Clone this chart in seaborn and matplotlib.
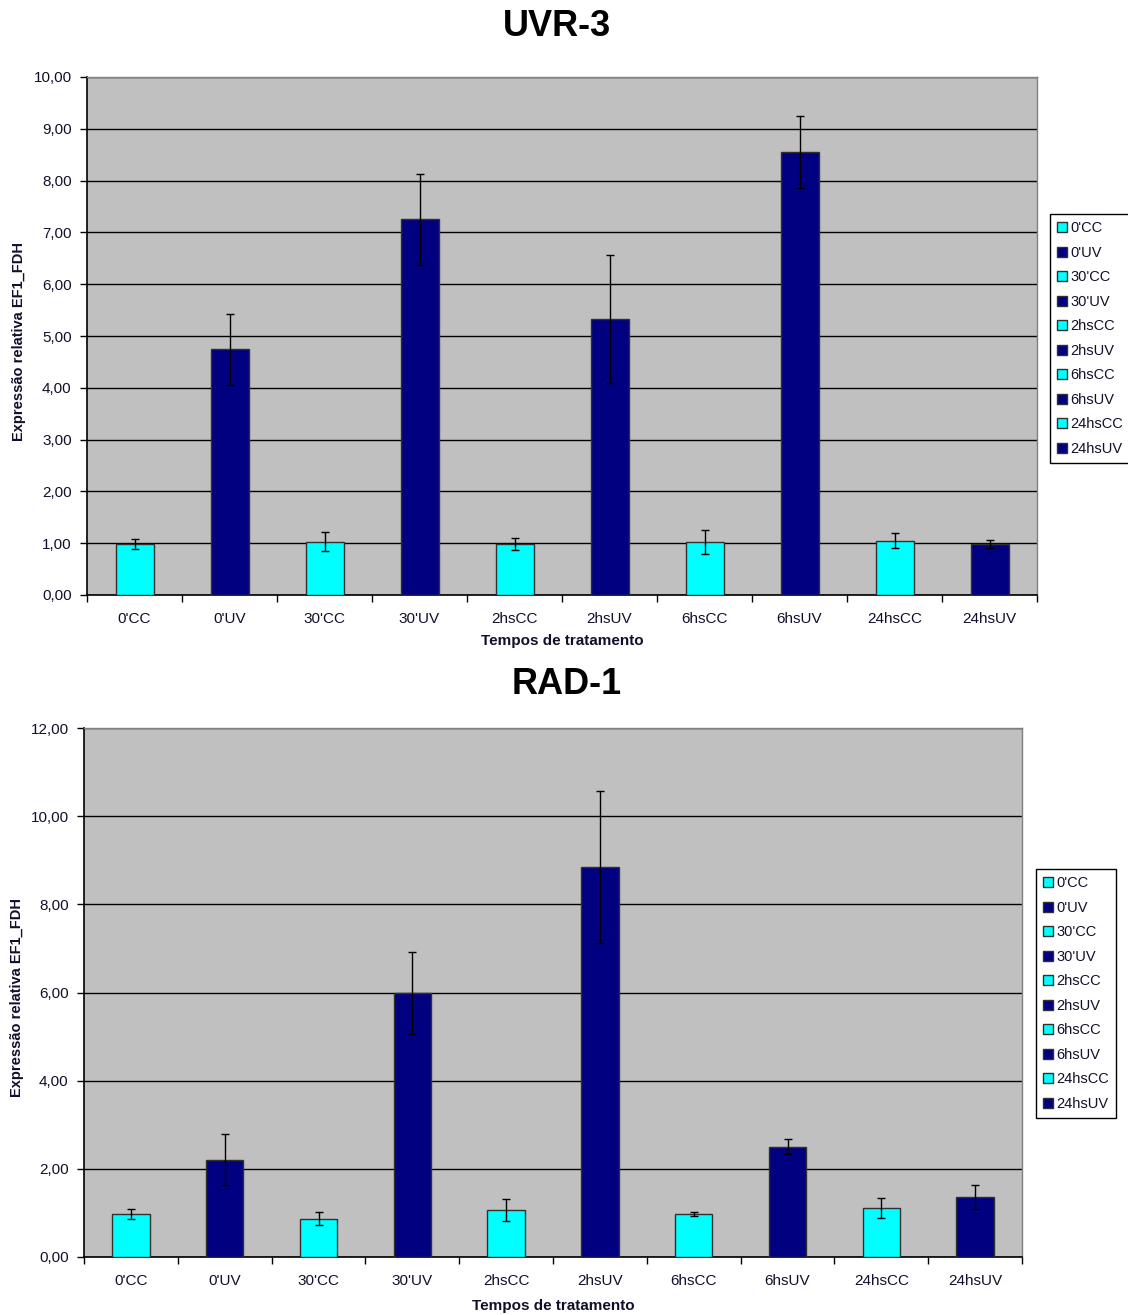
import numpy as np
import pandas as pd
import matplotlib
matplotlib.use("Agg")
import matplotlib.pyplot as plt
from matplotlib.ticker import FuncFormatter, MultipleLocator, FixedLocator
import seaborn as sns

# Treatment times (CC = control, UV = irradiated)
categories = ["0'CC", "0'UV", "30'CC", "30'UV", "2hsCC", "2hsUV",
              "6hsCC", "6hsUV", "24hsCC", "24hsUV"]

# UVR-3 relative expression (EF1_FDH) and error
uvr3_values = [0.99, 4.74, 1.03, 7.25, 0.99, 5.33, 1.03, 8.55, 1.05, 0.98]
uvr3_errors = [0.10, 0.69, 0.18, 0.88, 0.12, 1.23, 0.23, 0.70, 0.14, 0.08]

# RAD-1 relative expression (EF1_FDH) and error
rad1_values = [0.98, 2.21, 0.87, 5.98, 1.06, 8.85, 0.98, 2.50, 1.11, 1.36]
rad1_errors = [0.12, 0.57, 0.14, 0.93, 0.25, 1.72, 0.05, 0.17, 0.22, 0.28]

CC_COLOR = "#00FFFF"
UV_COLOR = "#000080"
palette = [CC_COLOR if c.endswith("CC") else UV_COLOR for c in categories]

sns.set_theme(style="white")
plt.rcParams["font.family"] = ["Liberation Sans", "DejaVu Sans"]
TEXT_COLOR = "#10102a"

fig = plt.figure(figsize=(11.28, 13.15), dpi=100)

panels = [
    dict(title="UVR-3", values=uvr3_values, errors=uvr3_errors, ymax=10, step=1,
         rect=[87 / 1128, 1 - 595 / 1315, 950 / 1128, 518 / 1315],
         title_xy=(557 / 1128, 1 - 27 / 1315), xlabelpad=6,
         legend_xy=(1050 / 1128, 1 - 214 / 1315)),
    dict(title="RAD-1", values=rad1_values, errors=rad1_errors, ymax=12, step=2,
         rect=[84 / 1128, 1 - 1257 / 1315, 938 / 1128, 529 / 1315],
         title_xy=(567 / 1128, 1 - 685 / 1315), xlabelpad=8,
         legend_xy=(1036 / 1128, 1 - 869 / 1315)),
]

fmt = FuncFormatter(lambda v, _: f"{v:.2f}".replace(".", ","))

for p in panels:
    ax = fig.add_axes(p["rect"])
    df = pd.DataFrame({"Tempo": categories, "Valor": p["values"]})
    sns.barplot(data=df, x="Tempo", y="Valor", hue="Tempo", order=categories,
                hue_order=categories, palette=palette, saturation=1,
                width=0.4, dodge=False, edgecolor="#303030", linewidth=1.0,
                legend=True, ax=ax, zorder=3)
    xpos = np.arange(len(categories))
    ax.errorbar(xpos, p["values"], yerr=p["errors"], fmt="none",
                ecolor="black", elinewidth=1.0, capsize=3, capthick=1.0,
                zorder=4)

    ax.set_facecolor("#C0C0C0")
    ax.set_xlim(-0.5, len(categories) - 0.5)
    ax.set_ylim(0, p["ymax"])
    ax.yaxis.set_major_locator(MultipleLocator(p["step"]))
    ax.yaxis.set_major_formatter(fmt)
    ax.grid(axis="y", color="black", linewidth=1.0, zorder=1)
    ax.grid(axis="x", visible=False)
    ax.set_axisbelow(True)

    ax.set_xticks(xpos)
    ax.set_xticklabels(categories)
    ax.xaxis.set_minor_locator(FixedLocator(np.arange(-0.5, len(categories), 1.0)))
    ax.tick_params(axis="x", which="major", length=0, pad=12,
                   labelsize=11, labelcolor=TEXT_COLOR)
    ax.tick_params(axis="x", which="minor", length=5, width=1,
                   color="black", direction="out", bottom=True)
    ax.tick_params(axis="y", which="major", length=5, width=1,
                   color="black", direction="out", left=True, pad=6,
                   labelsize=11, labelcolor=TEXT_COLOR)

    for side in ["left", "bottom"]:
        ax.spines[side].set_color("black")
        ax.spines[side].set_linewidth(1.2)
    for side in ["top", "right"]:
        ax.spines[side].set_color("#808080")
        ax.spines[side].set_linewidth(1.0)

    ax.set_xlabel("Tempos de tratamento", fontsize=11, fontweight="bold",
                  color=TEXT_COLOR, labelpad=p["xlabelpad"])
    ax.set_ylabel("Expressão relativa EF1_FDH", fontsize=10.5,
                  fontweight="bold", color=TEXT_COLOR)
    ax.yaxis.set_label_coords(-0.064, 0.49)

    fig.text(p["title_xy"][0], p["title_xy"][1], p["title"], fontsize=26,
             fontweight="bold", ha="center", va="center", color="black")

    handles, labels = ax.get_legend_handles_labels()
    ax.legend_.remove()
    leg = fig.legend(handles, labels, loc="upper left",
                     bbox_to_anchor=p["legend_xy"], frameon=True,
                     fancybox=False, edgecolor="black", framealpha=1,
                     fontsize=10.5, handlelength=0.65, handleheight=0.65,
                     handletextpad=0.25, labelspacing=0.72,
                     borderpad=0.5, borderaxespad=0.0)
    leg.get_frame().set_linewidth(1.0)
    for t in leg.get_texts():
        t.set_color(TEXT_COLOR)

fig.savefig("out.png", dpi=100, facecolor="white")
